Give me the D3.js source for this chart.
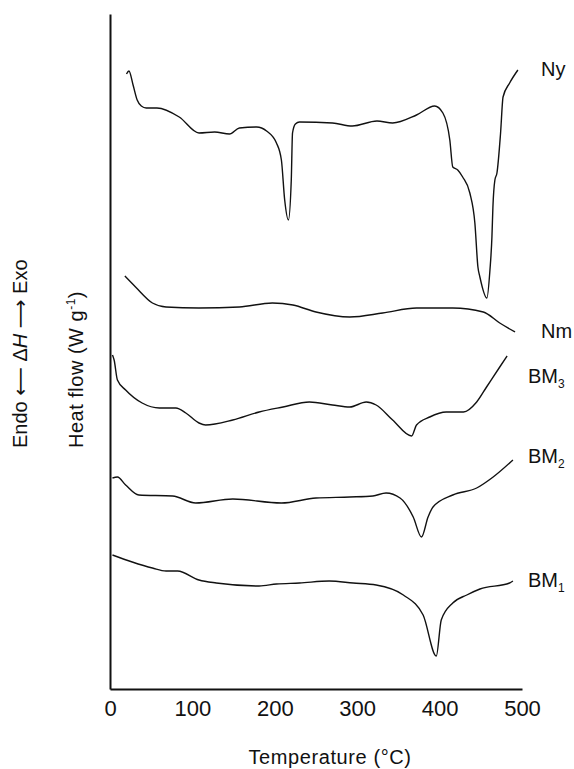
<!DOCTYPE html>
<html>
<head>
<meta charset="utf-8">
<script src="https://cdn.jsdelivr.net/npm/d3@7"></script>
<style>
  body { margin: 0; background: #fff; }
  text { font-family: "Liberation Sans", Arial, sans-serif; fill: #111; }
</style>
</head>
<body>
<script>
// DSC traces, heat flow in arbitrary units (curves are offset vertically)
var tempNy = [20, 23, 28, 33, 38, 44, 57, 84, 108, 127, 145, 157, 178, 190, 202, 208, 212, 216.5, 220, 221.5, 225, 230, 270, 294, 324, 343, 372, 394, 404, 412.4, 416, 422, 428, 436.7, 442.8, 446.5, 448.9, 457.4, 461.1, 463.5, 464.7, 467.1, 469.6, 474, 477, 485, 495];
var flowNy = [61.5, 61.8, 60.4, 58.9, 58.3, 58.1, 58.1, 57.2, 55.6, 55.7, 55.5, 56.1, 56.2, 55.8, 54.6, 52.9, 48.9, 46.9, 50.9, 55.6, 56.5, 56.7, 56.6, 56.3, 56.8, 56.6, 57.4, 58.3, 57.6, 54.9, 52.2, 51.9, 51.2, 49.6, 46.6, 42.2, 41.2, 39.1, 41.9, 45.2, 48.2, 50.9, 51.6, 55.6, 59.2, 60.6, 61.9];

var tempNm = [18, 31, 51.5, 68, 108, 157, 197, 222, 250, 291, 331, 372, 416, 453, 473, 491.5];
var flowNm = [41.3, 40.2, 38.6, 38.2, 38.1, 38.2, 38.6, 38.4, 37.7, 37.2, 37.6, 38.1, 38.1, 37.7, 36.6, 35.7];

var tempBM3 = [3, 5, 9, 19, 39, 60, 80, 92, 108, 116, 149, 181, 210, 242, 270, 291, 311, 323, 343, 366, 372, 388, 408, 429, 445, 457, 473, 482];
var flowBM3 = [33.4, 32.9, 30.9, 29.9, 28.6, 28.1, 28.1, 27.6, 26.6, 26.4, 26.9, 27.7, 28.2, 28.7, 28.4, 28.2, 28.7, 28.4, 26.9, 25.3, 26.4, 27.2, 27.7, 27.7, 28.7, 30.2, 32.2, 33.3];

var tempBM2 = [3, 9, 19, 35, 76, 104, 149, 208, 250, 291, 319, 335, 352, 368, 378, 386, 392, 416, 445, 465, 489];
var flowBM2 = [21.1, 21.2, 20.4, 19.4, 19.3, 18.6, 19.0, 18.6, 19.1, 19.2, 19.3, 19.6, 19.1, 17.2, 15.2, 17.2, 18.2, 19.4, 20.1, 21.2, 22.9];

var tempBM1 = [3, 27, 51.5, 68, 82, 108, 129, 181, 202, 230, 266, 295, 323, 356, 380, 396, 402, 416, 433, 449, 485, 489];
var flowBM1 = [13.4, 12.7, 12.1, 11.8, 11.8, 10.9, 10.6, 10.3, 10.5, 10.6, 10.8, 10.6, 10.4, 9.4, 7.4, 3.3, 6.9, 8.6, 9.4, 10.0, 10.6, 10.8];

var seriesNames = ["Ny", "Nm", "BM3", "BM2", "BM1"];
var labelFlow = [61.3, 35.1, 30.6, 22.6, 10.2];
var xTicks = [0, 100, 200, 300, 400, 500];

var W = 574, H = 769;
var svg = d3.select("body").append("svg")
    .attr("width", W)
    .attr("height", H);

// Scales
var x = d3.scaleLinear().domain([0, 500]).range([110, 522]);
var y = d3.scaleLinear().domain([0, 67.5]).range([689, 14]);

// X axis
var xAxis = svg.append("g")
    .attr("transform", "translate(0," + y(0) + ")")
    .call(d3.axisBottom(x).tickValues(xTicks).tickSize(0).tickPadding(11).tickFormat(d3.format("d")));
xAxis.select(".domain").attr("stroke", "#111").attr("stroke-width", 2);
xAxis.selectAll("text")
    .style("font-family", "'Liberation Sans', Arial, sans-serif")
    .style("font-size", "22px")
    .attr("fill", "#111");

// Y axis (no ticks)
var yAxis = svg.append("g")
    .attr("transform", "translate(" + x(0) + ",0)")
    .call(d3.axisLeft(y).tickValues([]).tickSizeOuter(0));
yAxis.select(".domain").attr("stroke", "#111").attr("stroke-width", 2);

// Curves
var traces = [
  d3.zip(tempNy, flowNy),
  d3.zip(tempNm, flowNm),
  d3.zip(tempBM3, flowBM3),
  d3.zip(tempBM2, flowBM2),
  d3.zip(tempBM1, flowBM1)
];

var line = d3.line()
    .x(function(d) { return x(d[0]); })
    .y(function(d) { return y(d[1]); })
    .curve(d3.curveMonotoneX);

svg.selectAll(".trace")
    .data(traces)
    .enter().append("path")
    .attr("class", "trace")
    .attr("d", line)
    .attr("fill", "none")
    .attr("stroke", "#111")
    .attr("stroke-width", 1.4)
    .attr("stroke-linejoin", "round");

// Curve labels
var labels = svg.selectAll(".lbl")
    .data(seriesNames)
    .enter().append("text")
    .attr("class", "lbl")
    .attr("x", function(d) { return d.indexOf("BM") === 0 ? 528 : 541; })
    .attr("y", function(d, i) { return y(labelFlow[i]); })
    .style("font-size", "20px");

labels.each(function(d) {
  var t = d3.select(this);
  if (d.indexOf("BM") === 0) {
    t.append("tspan").text("BM");
    t.append("tspan").attr("dy", 5).style("font-size", "12px").text(d.slice(2));
  } else {
    t.text(d);
  }
});

// X title
svg.append("text")
    .attr("x", 330)
    .attr("y", 764)
    .attr("text-anchor", "middle")
    .style("font-size", "20px")
    .style("letter-spacing", "0.6px")
    .text("Temperature (\u00B0C)");

// Y titles
var endo = svg.append("text")
    .attr("transform", "translate(27,448) rotate(-90)")
    .style("font-size", "20px");
endo.append("tspan").text("Endo ");
endo.append("tspan").style("font-family", "'DejaVu Sans', sans-serif").text("\u27F5");
endo.append("tspan").text(" \u0394");
endo.append("tspan").style("font-style", "italic").text("H");
endo.append("tspan").text(" ");
endo.append("tspan").style("font-family", "'DejaVu Sans', sans-serif").text("\u27F6");
endo.append("tspan").text(" Exo");

var hf = svg.append("text")
    .attr("transform", "translate(83,448) rotate(-90)")
    .style("font-size", "20px")
    .style("letter-spacing", "0.5px");
hf.append("tspan").text("Heat flow (W g");
hf.append("tspan").attr("dy", -8).style("font-size", "12px").text("-1");
hf.append("tspan").attr("dy", 8).text(")");
</script>
</body>
</html>
